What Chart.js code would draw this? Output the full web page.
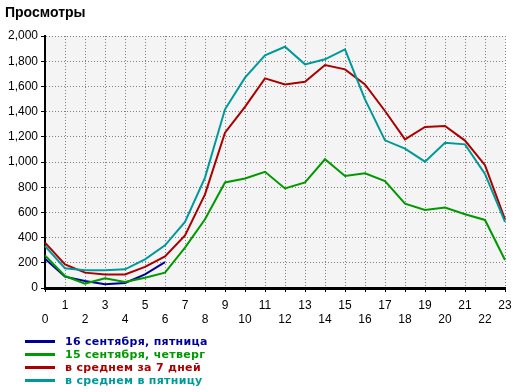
<!DOCTYPE html>
<html>
<head>
<meta charset="utf-8">
<script src="https://cdn.jsdelivr.net/npm/chart.js@4/dist/chart.umd.min.js"></script>
<style>
  html, body { margin: 0; padding: 0; background: #fff; }
  #wrap { position: relative; width: 520px; height: 392px; }
  #chart { position: absolute; left: 0; top: 0; }
  #title { position: absolute; left: 5px; top: 4px; font: bold 14px "Liberation Sans", Arial, sans-serif; color: #000; }
  #legend { position: absolute; left: 25px; top: 335px; font: bold 11px "DejaVu Sans", Verdana, sans-serif; letter-spacing: 0.3px; }
  .row { height: 13px; line-height: 13px; display: flex; align-items: center; white-space: nowrap; }
  .swatch { width: 30px; height: 3px; margin-right: 10px; }
</style>
</head>
<body>
<div id="wrap">
  <canvas id="chart" width="520" height="392"></canvas>
  <div id="title">Просмотры</div>
  <div id="legend"></div>
</div>
<script>
const hours = Array.from({ length: 24 }, (_, i) => String(i));

const seriesNames = ['16 сентября, пятница', '15 сентября, четверг', 'в среднем за 7 дней', 'в среднем в пятницу'];
const seriesColors = ['#000099', '#009900', '#aa0000', '#009999'];

const today = [233, 90, 55, 29, 40, 108, 206];
const yesterday = [259, 95, 35, 77, 48, 82, 122, 320, 545, 838, 869, 922, 790, 838, 1022, 889, 910, 849, 669, 619, 638, 585, 540, 222];
const week = [360, 188, 122, 108, 108, 167, 251, 418, 743, 1233, 1437, 1664, 1616, 1637, 1770, 1735, 1616, 1405, 1180, 1278, 1286, 1170, 975, 545];
const fridays = [333, 156, 140, 140, 148, 228, 339, 524, 876, 1418, 1669, 1847, 1915, 1775, 1815, 1894, 1497, 1172, 1106, 1003, 1153, 1140, 905, 524];

const seriesValues = [today, yesterday, week, fridays];

// plot area background
const plotBg = {
  id: 'plotBg',
  beforeDraw(chart) {
    const a = chart.chartArea;
    const ctx = chart.ctx;
    ctx.save();
    ctx.fillStyle = '#f4f4f4';
    ctx.fillRect(a.left, a.top, a.right - a.left, a.bottom - a.top);
    ctx.restore();
  }
};

const font = { family: '"Liberation Sans", Arial, sans-serif', size: 12 };

new Chart(document.getElementById('chart'), {
  type: 'line',
  data: {
    labels: hours,
    datasets: seriesValues.map((d, i) => ({
      label: seriesNames[i],
      data: d,
      borderColor: seriesColors[i],
      borderWidth: 2,
      pointRadius: 0,
      tension: 0,
      fill: false,
    })).reverse(),
  },
  options: {
    responsive: false,
    animation: false,
    events: [],
    layout: { padding: { left: 0, right: 15, top: 36, bottom: 64 } },
    plugins: { legend: { display: false }, tooltip: { enabled: false } },
    scales: {
      x: {
        offset: false,
        afterFit: s => { s.height = 40; },
        grid: { color: '#808080', tickColor: '#000', tickLength: 4, tickBorderDash: [], drawTicks: true },
        border: { color: '#000', width: 3, dash: [1, 2] },
        ticks: {
          color: '#000', font, padding: 6, autoSkip: false, maxRotation: 0,
          callback: (v, i) => (i % 2 ? [hours[i], ''] : ['', hours[i]]),
        },
      },
      y: {
        min: 0, max: 2000,
        afterFit: s => { s.width = 45; },
        grid: { color: '#808080', tickColor: '#000', tickLength: 4, tickBorderDash: [] },
        border: { color: '#000', width: 2, dash: [1, 2] },
        ticks: {
          color: '#000', font, padding: 3, stepSize: 200,
          callback: v => v.toLocaleString('en-US'),
        },
      },
    },
  },
  plugins: [plotBg],
});

// legend
const legend = document.getElementById('legend');
seriesNames.forEach((name, i) => {
  const row = document.createElement('div');
  row.className = 'row';
  row.style.color = seriesColors[i];
  row.innerHTML = `<div class="swatch" style="background:${seriesColors[i]}"></div><span>${name}</span>`;
  legend.appendChild(row);
});
</script>
</body>
</html>
